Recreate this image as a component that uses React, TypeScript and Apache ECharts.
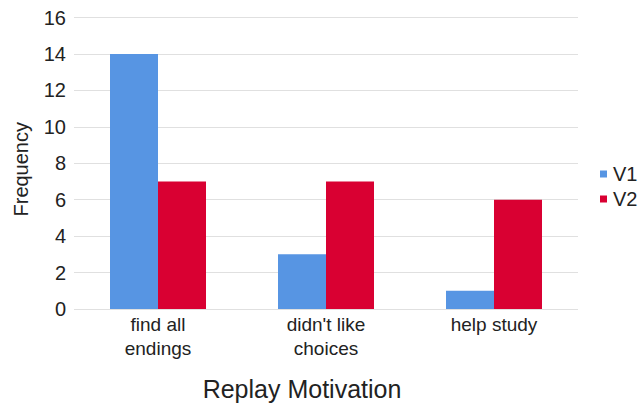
import React, { useEffect, useRef } from "react";
import * as echarts from "echarts";

const categories = ["find all\nendings", "didn't like\nchoices", "help study"];
const v1 = [14, 3, 1];
const v2 = [7, 7, 6];
const yTicks = { min: 0, max: 16, interval: 2 };

export default function App() {
  const ref = useRef<HTMLDivElement>(null);
  useEffect(() => {
    const chart = echarts.init(ref.current!, null, { renderer: "svg" });
    const font = "Liberation Sans, Arial, sans-serif";
    chart.setOption({
      animation: false,
      textStyle: { fontFamily: font },
      grid: { left: 74, right: 62, top: 17.5, bottom: 98, containLabel: false },
      xAxis: {
        type: "category",
        data: categories,
        axisLine: { show: false },
        axisTick: { show: false },
        axisLabel: { fontSize: 19, lineHeight: 24, color: "#222", margin: 3, fontFamily: font },
      },
      yAxis: {
        type: "value",
        min: yTicks.min,
        max: yTicks.max,
        interval: yTicks.interval,
        axisLine: { show: false },
        axisTick: { show: false },
        splitLine: { lineStyle: { color: "#e0e0e0", width: 1 } },
        axisLabel: { fontSize: 20, color: "#222", margin: 8, fontFamily: font },
        name: "Frequency",
        nameLocation: "middle",
        nameRotate: 90,
        nameGap: 43,
        nameTextStyle: { fontSize: 20, color: "#222", fontFamily: font, padding: [0, 12, 0, 0] },
      },
      legend: {
        orient: "vertical",
        left: 595,
        top: 159,
        itemWidth: 7,
        itemHeight: 7,
        itemGap: 5,
        icon: "rect",
        textStyle: { fontSize: 20, color: "#222", fontFamily: font, padding: [0, 0, 0, 1] },
        data: ["V1", "V2"],
      },
      graphic: [
        {
          type: "text",
          x: 302,
          y: 389,
          style: {
            text: "Replay Motivation",
            fontSize: 25,
            fill: "#222",
            align: "center",
            verticalAlign: "middle",
            fontFamily: font,
          },
        },
      ],
      series: [
        {
          name: "V1",
          type: "bar",
          data: v1,
          barWidth: 48,
          barGap: "0%",
          itemStyle: { color: "#5795e3" },
        },
        {
          name: "V2",
          type: "bar",
          data: v2,
          barWidth: 48,
          barGap: "0%",
          itemStyle: { color: "#d90032" },
        },
      ],
    });
    return () => chart.dispose();
  }, []);
  return <div ref={ref} style={{ position: "absolute", left: 0, top: 0, width: 640, height: 407 }} />;
}
